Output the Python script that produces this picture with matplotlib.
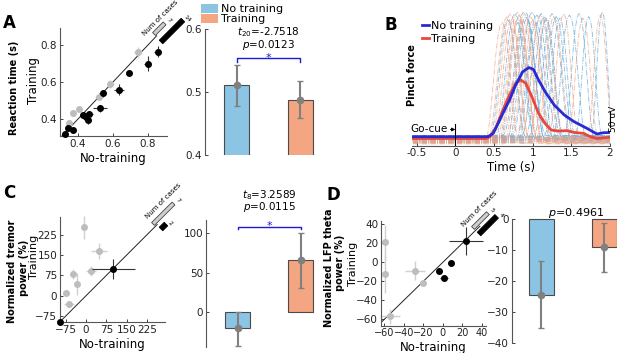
import numpy as np
import matplotlib
matplotlib.use("Agg")
import matplotlib.pyplot as plt
from matplotlib.patches import Patch, Polygon
from matplotlib.lines import Line2D

W, H = 617, 353

# ---------------- data ----------------
# A: reaction time scatter (no-training x, training y, errors)
a_blk_x = [0.326, 0.344, 0.370, 0.427, 0.446, 0.455, 0.465, 0.526, 0.541, 0.634, 0.691, 0.798, 0.857]
a_blk_y = [0.319, 0.350, 0.340, 0.420, 0.410, 0.395, 0.427, 0.458, 0.539, 0.557, 0.647, 0.700, 0.764]
a_blk_xe = [0.005, 0.010, 0.010, 0.010, 0.015, 0.010, 0.020, 0.040, 0.020, 0.030, 0.010, 0.020, 0.020]
a_blk_ye = [0.005, 0.010, 0.010, 0.010, 0.010, 0.020, 0.010, 0.020, 0.020, 0.030, 0.010, 0.040, 0.030]
a_gry_x = [0.350, 0.373, 0.406, 0.520, 0.583, 0.741]
a_gry_y = [0.377, 0.430, 0.454, 0.520, 0.589, 0.760]
a_gry_xe = [0.010, 0.010, 0.010, 0.020, 0.020, 0.020]
a_gry_ye = [0.010, 0.010, 0.010, 0.010, 0.020, 0.030]
a_cases = ["7", "14"]

# A: bars
a_means = [0.511, 0.488]
a_lo = [0.478, 0.458]
a_hi = [0.543, 0.517]

# B: mean pinch force traces (uV)
b_nt_t = [-0.55, 0.42, 0.49, 0.615, 0.70, 0.78, 0.87, 0.95, 1.01, 1.075, 1.16, 1.28, 1.41, 1.535, 1.70, 1.83, 1.91, 2.0]
b_nt_y = [0, 0, 11, 78, 122, 172, 216, 230, 224, 189, 150, 105, 72, 50, 28, 9, 13, 14]
b_tr_t = [-0.55, 0.40, 0.45, 0.53, 0.615, 0.70, 0.78, 0.845, 0.91, 0.99, 1.075, 1.16, 1.24, 1.33, 1.45, 1.535, 1.66, 1.745, 1.83, 2.0]
b_tr_y = [-6, -6, 0, 33, 89, 139, 178, 189, 178, 133, 78, 44, 22, 19, 20, 14, 11, 0, -6, -2]

# B: single trials (onset s, duration s, peak uV, baseline uV)
trial_shape = [0, 0.04, 0.15, 0.32, 0.52, 0.72, 0.88, 0.97, 1.0, 0.97, 0.88, 0.72, 0.52, 0.32, 0.15, 0.04, 0]
nt_onset = [0.45, 0.52, 0.58, 0.62, 0.66, 0.70, 0.74, 0.78, 0.82, 0.86, 0.90, 0.95, 1.00, 1.08, 1.15, 1.25, 1.40, 1.55, 1.75]
nt_dur = [0.45, 0.50, 0.45, 0.55, 0.50, 0.45, 0.50, 0.55, 0.45, 0.50, 0.50, 0.45, 0.50, 0.45, 0.40, 0.45, 0.40, 0.35, 0.30]
nt_peak = [390, 410, 380, 420, 400, 395, 415, 405, 380, 410, 400, 390, 410, 400, 395, 405, 410, 400, 415]
nt_base = [2, -4, -10, 4, -14, -6, 0, -18, -8, 3, -12, -2, -20, -5, 1, -15, -9, -3, -11]
tr_onset = [0.38, 0.42, 0.46, 0.50, 0.53, 0.56, 0.60, 0.63, 0.67, 0.72, 0.78, 0.85, 0.95, 1.05, 1.20, 1.45, 1.70]
tr_dur = [0.45, 0.50, 0.50, 0.45, 0.55, 0.50, 0.45, 0.50, 0.45, 0.50, 0.45, 0.50, 0.45, 0.45, 0.40, 0.40, 0.35]
tr_peak = [380, 400, 410, 390, 415, 395, 405, 385, 410, 400, 390, 405, 395, 400, 410, 395, 405]
tr_base = [-22, -8, -16, -3, -19, -11, -6, -24, -13, 0, -17, -9, -21, -4, -14, -7, -18]

# C: tremor power scatter
c_blk_x = [-96, 101]
c_blk_y = [-96, 98]
c_blk_xe = [3, 80]
c_blk_ye = [3, 38]
c_gry_x = [-7, 48, 18, -47, -32, -74, -63]
c_gry_y = [252, 165, 91, 80, 42, 9, -30]
c_gry_xe = [8, 28, 20, 8, 6, 8, 18]
c_gry_ye = [43, 28, 20, 20, 40, 10, 5]
c_cases = ["7", "2"]

# C: bars
c_means = [-20, 66]
c_lo = [-43, 31]
c_hi = [0, 101]

# D: LFP theta scatter
d_blk_x = [23.8, 8.1, -3.6, 1.5]
d_blk_y = [22.4, -0.4, -8.8, -16.5]
d_blk_xe = [17, 3, 3, 4]
d_blk_ye = [15, 2, 2, 2]
d_gry_x = [-59.3, -59.0, -28.5, -20.0, -54.0]
d_gry_y = [21.7, -12.3, -8.8, -21.5, -57.0]
d_gry_xe = [2, 2, 10, 3, 10]
d_gry_ye = [18, 20, 10, 2, 8]
d_cases = ["5", "4"]

# D: bars
d_means = [-24.3, -9.1]
d_lo = [-35, -17]
d_hi = [-13.5, -1.2]

C_NT = "#8cc4e4"
C_TR = "#f4a683"
C_NT_LINE = "#2a2ad4"
C_TR_LINE = "#e8483c"
SPINE = "#555555"

plt.rcParams["font.family"] = "DejaVu Sans"

fig = plt.figure(figsize=(W / 100, H / 100), dpi=100)


def px_axes(l, t, r, b):
    return fig.add_axes([l / W, 1 - b / H, (r - l) / W, (b - t) / H])


def fx(x):
    return x / W


def fy(y):
    return 1 - y / H


def vtext(x, y, s, size=8, bold=False):
    fig.text(fx(x), fy(y), s, rotation=90, fontsize=size, fontweight="bold" if bold else "normal",
             ha="center", va="center")


def style(ax, left=True, bottom=True):
    for s in ["top", "right"]:
        ax.spines[s].set_visible(False)
    ax.spines["left"].set_visible(left)
    ax.spines["bottom"].set_visible(bottom)
    for s in ["left", "bottom"]:
        ax.spines[s].set_color(SPINE)
        ax.spines[s].set_linewidth(0.8)
    ax.tick_params(direction="in", length=2, width=0.6, labelsize=7.5, pad=2, colors="#222222")
    ax.patch.set_alpha(0)


def scatter_panel(ax, bx, by, bxe, bye, gx, gy, gxe, gye, line_end):
    ax.plot([ax.get_xlim()[0], line_end], [ax.get_xlim()[0], line_end], color="#222222", lw=0.7, zorder=1)
    ax.errorbar(gx, gy, xerr=gxe, yerr=gye, fmt="o", ms=4, color="#bdbdbd", ecolor="#d0d0d0",
                elinewidth=1, capsize=0, zorder=2, clip_on=False)
    ax.errorbar(bx, by, xerr=bxe, yerr=bye, fmt="o", ms=4, color="black", ecolor="#333333",
                elinewidth=0.8, capsize=0, zorder=3, clip_on=False)


def bar_panel(ax, means, lo, hi):
    pos = [1, 2]
    ax.bar(pos, means, width=0.4, color=[C_NT, C_TR], edgecolor="#4a4a4a", linewidth=0.8, zorder=1)
    ax.errorbar(pos, means, yerr=[np.subtract(means, lo), np.subtract(hi, means)], fmt="o", ms=4.5,
                color="#808080", ecolor="#808080", elinewidth=1.5, capsize=2.5, capthick=1, zorder=3,
                clip_on=False)
    ax.set_xticks([])


def rot_bar(x0, y0, length, thick, face, edge):
    d = np.array([1, -1]) / np.sqrt(2)
    n = np.array([1, 1]) / np.sqrt(2)
    p0 = np.array([x0, y0])
    p1 = p0 + d * length
    pts = [p0 + n * thick / 2, p1 + n * thick / 2, p1 - n * thick / 2, p0 - n * thick / 2]
    pts = [(fx(p[0]), fy(p[1])) for p in pts]
    fig.add_artist(Polygon(pts, closed=True, facecolor=face, edgecolor=edge, lw=0.6,
                           transform=fig.transFigure))


def cases_marker(text_xy, gray_start, gray_len, blk_start, blk_len, labels):
    fig.text(fx(text_xy[0]), fy(text_xy[1]), "Num of cases", rotation=45, fontsize=5,
             ha="center", va="center")
    rot_bar(gray_start[0], gray_start[1], gray_len, 4, "#cfcfcf", "#444444")
    rot_bar(blk_start[0], blk_start[1], blk_len, 5, "black", "black")
    gend = (gray_start[0] + gray_len / np.sqrt(2) + 4, gray_start[1] - gray_len / np.sqrt(2) - 3)
    bend = (blk_start[0] + blk_len / np.sqrt(2) + 4, blk_start[1] - blk_len / np.sqrt(2) - 1)
    fig.text(fx(gend[0]), fy(gend[1]), labels[0], rotation=-45, fontsize=4.5, ha="center", va="center")
    fig.text(fx(bend[0]), fy(bend[1]), labels[1], rotation=-45, fontsize=4.5, ha="center", va="center")


def sig(ax, x1, x2, y, tick, star_y, txt_y, txt):
    ax.plot([x1, x1, x2, x2], [y - tick, y, y, y - tick], color="#1a1ad8", lw=1, clip_on=False)
    ax.text((x1 + x2) / 2, star_y, "*", color="#1a1ad8", fontsize=8, ha="center", va="center")
    ax.text((x1 + x2) / 2, txt_y, txt, fontsize=7.5, ha="center", va="bottom",
            multialignment="center", linespacing=0.85)


# ---------------- A scatter ----------------
axA = px_axes(60, 28, 167, 136)
axA.set_xlim(0.297, 0.909)
axA.set_ylim(0.308, 0.892)
scatter_panel(axA, a_blk_x, a_blk_y, a_blk_xe, a_blk_ye, a_gry_x, a_gry_y, a_gry_xe, a_gry_ye, 0.85)
axA.set_xticks([0.4, 0.6, 0.8])
axA.set_yticks([0.4, 0.6, 0.8])
style(axA)
axA.set_xlabel("No-training", fontsize=8.5, labelpad=2)
vtext(33, 80, "Training", 8.5)
vtext(14, 88, "Reaction time (s)", 7, True)
cases_marker((160, 18), (154, 34), 15, (161, 42), 31, a_cases)
fig.text(fx(3), fy(23), "A", fontsize=12, fontweight="bold", va="center")

# ---------------- A bars ----------------
axAb = px_axes(205, 29, 332, 155)
axAb.set_xlim(0.5, 2.5)
axAb.set_ylim(0.4, 0.6)
bar_panel(axAb, a_means, a_lo, a_hi)
axAb.set_yticks([0.4, 0.5, 0.6])
style(axAb, bottom=False)
sig(axAb, 1, 2, 0.554, 0.006, 0.5545, 0.5635, "$t_{20}$=-2.7518\n$p$=0.0123")
axAb.legend(handles=[Patch(facecolor=C_NT, label="No training"), Patch(facecolor=C_TR, label="Training")],
            loc="upper left", bbox_to_anchor=(fx(201), fy(4)), bbox_transform=fig.transFigure,
            frameon=False, fontsize=8, handlelength=1.5, handleheight=0.8, handletextpad=0.3,
            labelspacing=0.0, borderaxespad=0, borderpad=0)

# ---------------- B ----------------
axB = px_axes(411.7, 12, 610, 145.7)
axB.set_xlim(-0.565, 2.0)
axB.set_ylim(-30, 415)
for on, du, pk, bs in zip(nt_onset, nt_dur, nt_peak, nt_base):
    tt = np.concatenate([[-0.55], on + np.linspace(0, du, len(trial_shape)), [2.0]])
    yy = np.concatenate([[bs], bs + np.array(trial_shape) * (pk - bs), [bs]])
    axB.plot(tt, yy, ls="-.", lw=0.6, color="#5fa7d6", alpha=0.75, zorder=1)
for on, du, pk, bs in zip(tr_onset, tr_dur, tr_peak, tr_base):
    tt = np.concatenate([[-0.55], on + np.linspace(0, du, len(trial_shape)), [2.0]])
    yy = np.concatenate([[bs], bs + np.array(trial_shape) * (pk - bs), [bs]])
    axB.plot(tt, yy, ls="-.", lw=0.6, color="#f0a080", alpha=0.75, zorder=1)
axB.plot(b_tr_t, b_tr_y, color=C_TR_LINE, lw=2, zorder=3, label="Training")
axB.plot(b_nt_t, b_nt_y, color=C_NT_LINE, lw=2, zorder=4, label="No training")
axB.plot([0, 0], [-30, 42], color="black", lw=0.8, zorder=5)
axB.annotate("Go-cue", xy=(0, 24), xytext=(-0.1, 24), fontsize=7.5, ha="right", va="center",
             arrowprops=dict(arrowstyle="-|>", lw=0.7, color="black", mutation_scale=5, shrinkA=0, shrinkB=0))
axB.plot([2.0, 2.0], [32, 82], color="black", lw=0.8, clip_on=False)
fig.text(fx(613), fy(119), "50 uV", rotation=90, fontsize=6.5, ha="center", va="center")
axB.set_xticks([-0.5, 0, 0.5, 1, 1.5, 2])
axB.set_xticklabels(["-0.5", "0", "0.5", "1", "1.5", "2"])
style(axB, left=False)
axB.set_yticks([])
axB.set_xlabel("Time (s)", fontsize=8.5, labelpad=2)
vtext(412, 75, "Pinch force", 7, True)
axB.legend(handles=[Line2D([], [], color=C_NT_LINE, lw=2, label="No training"),
                    Line2D([], [], color=C_TR_LINE, lw=2, label="Training")],
           loc="upper left", bbox_to_anchor=(fx(422), fy(21)), bbox_transform=fig.transFigure,
           frameon=False, fontsize=8, handlelength=0.6, handletextpad=0.2, labelspacing=0.25,
           borderaxespad=0, borderpad=0)
fig.text(fx(385), fy(25), "B", fontsize=12, fontweight="bold", va="center")

# ---------------- C scatter ----------------
axC = px_axes(60, 216.7, 165, 322.3)
axC.set_xlim(-96, 291)
axC.set_ylim(-98, 291)
scatter_panel(axC, c_blk_x, c_blk_y, c_blk_xe, c_blk_ye, c_gry_x, c_gry_y, c_gry_xe, c_gry_ye, 262)
axC.set_xticks([-75, 0, 75, 150, 225])
axC.set_yticks([-75, 0, 75, 150, 225])
style(axC)
axC.set_xlabel("No-training", fontsize=8.5, labelpad=2)
vtext(34, 257, "Training", 8)
vtext(12, 271, "Normalized tremor", 7, True)
vtext(24, 268, "power (%)", 7, True)
cases_marker((163, 201), (153, 224), 29, (161, 229), 7, c_cases)
fig.text(fx(3), fy(193), "C", fontsize=12, fontweight="bold", va="center")

# ---------------- C bars ----------------
axCb = px_axes(206, 220, 332, 346.7)
axCb.set_xlim(0.5, 2.5)
axCb.set_ylim(-43.5, 117)
bar_panel(axCb, c_means, c_lo, c_hi)
axCb.set_yticks([0, 50, 100])
style(axCb, bottom=False)
sig(axCb, 1, 2, 108.4, 3, 110.0, 124.0, "$t_{8}$=3.2589\n$p$=0.0115")

# ---------------- D scatter ----------------
axD = px_axes(381, 220.7, 486, 325.7)
axD.set_xlim(-63.4, 44.3)
axD.set_ylim(-66.7, 43.8)
scatter_panel(axD, d_blk_x, d_blk_y, d_blk_xe, d_blk_ye, d_gry_x, d_gry_y, d_gry_xe, d_gry_ye, 38)
axD.set_xticks([-60, -40, -20, 0, 20, 40])
axD.set_yticks([-60, -40, -20, 0, 20, 40])
style(axD)
axD.tick_params(axis="x", labelsize=7)
axD.set_xlabel("No-training", fontsize=8.5, labelpad=2)
vtext(353, 264, "Training", 8)
vtext(329, 268, "Normalized LFP theta", 7, True)
vtext(340, 263, "power (%)", 7, True)
cases_marker((479, 209), (473, 228), 21, (479, 234), 25, d_cases)
fig.text(fx(327), fy(195), "D", fontsize=12, fontweight="bold", va="center")

# ---------------- D bars ----------------
axDb = px_axes(511.7, 219, 617, 343.3)
axDb.set_xlim(0.53, 2.2)
axDb.set_ylim(-40, 0)
bar_panel(axDb, d_means, d_lo, d_hi)
axDb.set_yticks([0, -10, -20, -30, -40])
style(axDb, bottom=False)
for b in axDb.patches:
    b.set_clip_on(False)
axDb.text(1.55, 2.0, r"$p$=0.4961", fontsize=8, ha="center", va="center")

fig.savefig("out.png", dpi=100)
